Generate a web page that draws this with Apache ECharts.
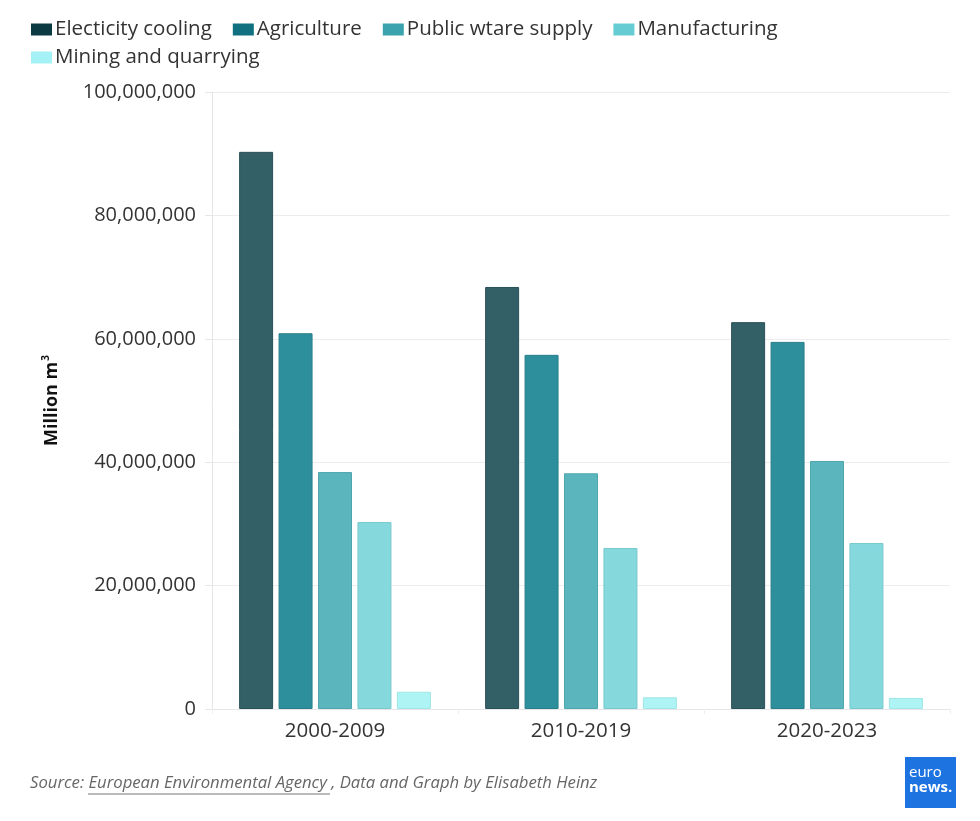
<!DOCTYPE html>
<html><head><meta charset="utf-8">
<script src="https://cdn.jsdelivr.net/npm/echarts@6/dist/echarts.min.js"></script>
<style>html,body{margin:0;padding:0;background:#fff}#c{width:980px;height:821px}</style>
</head><body><div id="c"></div>
<script>
const categories = ['2000-2009', '2010-2019', '2020-2023'];
const seriesNames = ['Electicity cooling', 'Agriculture', 'Public wtare supply', 'Manufacturing', 'Mining and quarrying'];
const electricityCooling = [90300000, 68400000, 62700000];
const agriculture = [60900000, 57400000, 59500000];
const publicWaterSupply = [38400000, 38200000, 40200000];
const manufacturing = [30300000, 26100000, 26900000];
const miningQuarrying = [2800000, 1900000, 1800000];
const seriesValues = [electricityCooling, agriculture, publicWaterSupply, manufacturing, miningQuarrying];
const barColors = ['#335f66', '#2e8f9c', '#5bb5bd', '#85d8dc', '#aef4f4'];
const borderColors = ['#2a5158', '#287f8a', '#4fa6ae', '#78c9cd', '#9fe6e6'];
const legendColors = ['#0b3a42', '#107080', '#3aa3ad', '#66ccd3', '#a4f2f5'];

const font = '"Open Sans", "Noto Sans", sans-serif';
const legendBase = {
  itemWidth: 21, itemHeight: 12, itemGap: 21,
  textStyle: { fontSize: 20.5, color: '#333', fontFamily: font, padding: [0, 0, 0, -2] }
};
const legendItem = i => ({ name: seriesNames[i], icon: 'rect', itemStyle: { color: legendColors[i], borderWidth: 0 } });
const chart = echarts.init(document.getElementById('c'));
chart.setOption({
  animation: false,
  textStyle: { fontFamily: font },
  legend: [
    Object.assign({}, legendBase, { left: 26, top: 14, data: [0, 1, 2, 3].map(legendItem) }),
    Object.assign({}, legendBase, { left: 26, top: 42, data: [4].map(legendItem) })
  ],
  grid: { left: 212, right: 30, top: 92, bottom: 112 },
  xAxis: {
    type: 'category', data: categories,
    axisLine: { lineStyle: { color: '#e6e6e6' } },
    axisTick: { show: true, alignWithLabel: false, lineStyle: { color: '#eeeeee' } },
    axisLabel: { fontSize: 20.5, color: '#333', margin: 12, fontFamily: font }
  },
  yAxis: {
    type: 'value', min: 0, max: 100000000, interval: 20000000,
    axisLine: { show: true, lineStyle: { color: '#e6e6e6' } },
    axisTick: { show: true, length: 7, lineStyle: { color: '#e6e6e6' } },
    splitLine: { lineStyle: { color: '#ededed' } },
    axisLabel: {
      fontSize: 20, color: '#333', margin: 16, fontFamily: font,
      formatter: v => v.toLocaleString('en-US')
    },
    name: 'Million m{sup|3}', nameLocation: 'middle', nameGap: 150, nameRotate: 90,
    nameTextStyle: {
      fontSize: 18, fontWeight: 'bold', color: '#111', fontFamily: font,
      rich: { sup: { fontSize: 10, fontWeight: 'bold', color: '#111', verticalAlign: 'top', padding: [0, 0, 11, 1] } }
    }
  },
  series: seriesNames.map((n, i) => ({
    name: n, type: 'bar', data: seriesValues[i],
    barWidth: 34, barGap: '16%',
    itemStyle: { color: barColors[i], borderColor: borderColors[i], borderWidth: 1 }
  })),
  graphic: [
    {
      type: 'text', left: 30, top: 775,
      style: {
        text: 'Source: European Environmental Agency , Data and Graph by Elisabeth Heinz',
        fontSize: 16.7, fontStyle: 'italic', fill: '#666', fontFamily: font
      }
    },
    { type: 'line', shape: { x1: 88, y1: 794, x2: 330, y2: 794 }, style: { stroke: '#777', lineWidth: 1 } },
    { type: 'rect', shape: { x: 905, y: 757, width: 51, height: 51 }, style: { fill: '#1d74e0' } },
    {
      type: 'text', left: 909, top: 765,
      style: {
        text: '{a|euro}\n{b|news.}',
        rich: {
          a: { fontSize: 15, lineHeight: 15, fill: '#fff', fontFamily: font },
          b: { fontSize: 15, lineHeight: 15, fill: '#fff', fontWeight: 'bold', fontFamily: font }
        }
      }
    }
  ]
});
</script></body></html>
